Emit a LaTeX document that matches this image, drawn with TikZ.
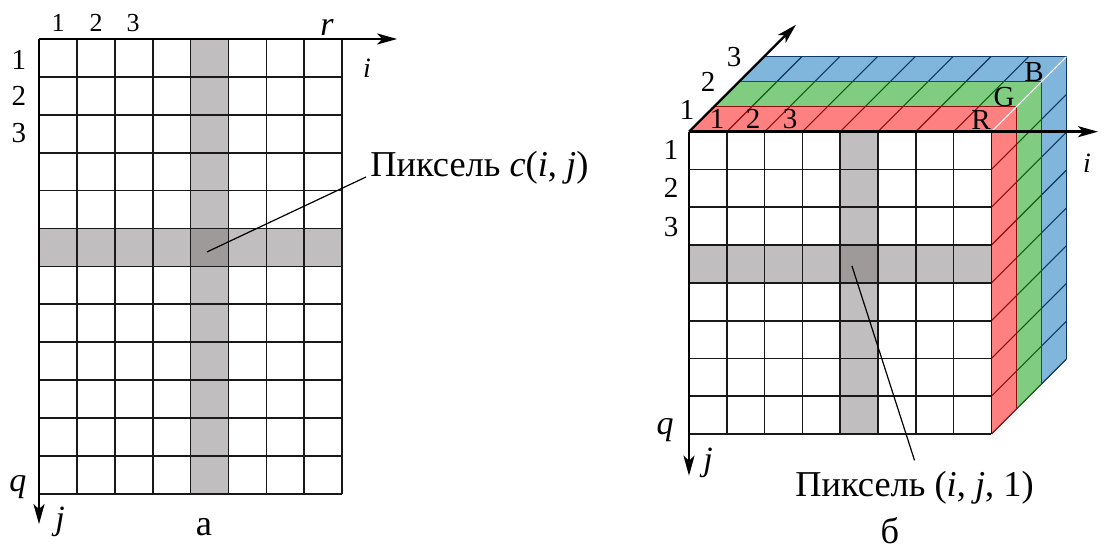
\documentclass[tikz,border=0pt]{standalone}
\usepackage{fontspec}
\setmainfont{Liberation Serif}
\usetikzlibrary{arrows.meta}

\definecolor{pixgray}{RGB}{192,190,191}
\definecolor{pixdark}{RGB}{158,154,154}
\definecolor{redfill}{RGB}{255,128,128}
\definecolor{greenfill}{RGB}{128,204,128}
\definecolor{bluefill}{RGB}{128,182,220}
\definecolor{rededge}{RGB}{140,15,15}
\definecolor{greenedge}{RGB}{15,95,15}
\definecolor{blueedge}{RGB}{15,55,100}

\begin{document}
\begin{tikzpicture}[
  x=0.5pt, y=-0.5pt,
  gridline/.style={draw=black!90, line width=0.85pt},
  hatch/.style={line width=0.55pt},
  axis/.style={-{Stealth[length=10pt, width=5.5pt, inset=2.5pt]}, line width=1.2pt},
  num/.style={font=\fontsize{14.5}{16}\selectfont, inner sep=0pt},
  numsmall/.style={font=\fontsize{13}{15}\selectfont, inner sep=0pt},
  var/.style={font=\fontsize{17}{19}\selectfont\itshape, inner sep=0pt},
  varsmall/.style={font=\fontsize{14}{16}\selectfont\itshape, inner sep=0pt},
  caption/.style={font=\fontsize{18.2}{20}\selectfont, inner sep=0pt},
  leader/.style={line width=0.6pt}
]
\useasboundingbox (0,0) rectangle (1104,549);

% a: single channel image
\begin{scope}[shift={(19.5pt,-19.5pt)}, x=18.95pt, y=-18.95pt]
  \fill[pixgray] (4,0) rectangle (5,12);
  \fill[pixgray] (0,5) rectangle (8,6);
  \fill[pixdark] (4,5) rectangle (5,6);
  \foreach \c in {1,...,8} \draw[gridline] (\c,0) -- (\c,12);
  \foreach \r in {1,...,12} \draw[gridline] (0,\r) -- (8,\r);
  \coordinate (pixA) at (4.43,5.62);
  \draw[axis] (0,0) -- (9.45,0);
  \draw[axis] (0,0) -- (0,12.8);
\end{scope}

\foreach \t/\x in {1/58, 2/96, 3/133} \node[numsmall] (topA\t) at (\x,23) {\t};
\foreach \t/\y in {1/60, 2/96, 3/133} \node[num] (sideA\t) at (19,\y) {\t};
\node[var] (rA) at (327,27) {r};
\node[varsmall] (iA) at (367,68) {i};
\node[var] (qA) at (18,487) {q};
\node[var] (jA) at (60,522) {j};
\node[caption] (capA) at (204,527) {а};
\node[caption, anchor=base west] (labA) at (370,177) {Пиксель \textit{c}(\textit{i}, \textit{j})};
\draw[leader] (pixA) -- ([xshift=-2pt]labA.base west);

% b: RGB image
\begin{scope}[shift={(344.5pt,-65.85pt)}, x=18.9pt, y=-18.9pt]
  \def\dep{0.661}
  \foreach \k/\fc/\ec in {3/bluefill/blueedge, 2/greenfill/greenedge, 1/redfill/rededge} {
    \pgfmathsetmacro\near{(\k-1)*\dep}
    \pgfmathsetmacro\far{\k*\dep}
    \fill[\fc] (\near,-\near) -- (8+\near,-\near) -- (8+\far,-\far) -- (\far,-\far) -- cycle;
    \fill[\fc] (8+\near,-\near) -- (8+\far,-\far) -- (8+\far,8-\far) -- (8+\near,8-\near) -- cycle;
    \foreach \c in {1,...,7} \draw[hatch, \ec] (\c+\near,-\near) -- (\c+\far,-\far);
    \foreach \r in {1,...,8} \draw[hatch, \ec] (8+\near,\r-\near) -- (8+\far,\r-\far);
    \draw[\ec, line width=0.7pt] (\far,-\far) -- (8+\far,-\far) -- (8+\far,8-\far);
  }
  \draw[white, line width=0.6pt] (8,0) -- (8+3*\dep,-3*\dep);
  \fill[white] (0,0) rectangle (8,8);
  \fill[pixgray] (4,0) rectangle (5,8);
  \fill[pixgray] (0,3) rectangle (8,4);
  \fill[pixdark] (4,3) rectangle (5,4);
  \foreach \c in {1,...,8} \draw[gridline] (\c,0) -- (\c,8);
  \foreach \r in {1,...,8} \draw[gridline] (0,\r) -- (8,\r);
  \coordinate (pixB) at (4.31,3.55);
  \draw[axis] (0,0) -- (10.82,0);
  \draw[axis] (0,0) -- (0,9.1);
  \draw[axis] (0,0) -- (2.83,-2.83);
\end{scope}

\foreach \t/\x/\y in {1/687/110, 2/708/82, 3/734/57} \node[num] (depB\t) at (\x,\y) {\t};
\foreach \t/\x in {1/717, 2/753, 3/790} \node[num] (colB\t) at (\x,119) {\t};
\foreach \t/\y in {1/150, 2/188, 3/227} \node[num] (rowB\t) at (671,\y) {\t};
\node[num] (chR) at (981,120) {R};
\node[num] (chG) at (1004,97) {G};
\node[num] (chB) at (1034,72) {B};
\node[varsmall] (iB) at (1087,163) {i};
\node[var] (qB) at (665,430) {q};
\node[var] (jB) at (708,463) {j};
\node[caption, anchor=base west] (labB) at (795,497) {Пиксель (\textit{i}, \textit{j}, 1)};
\node[caption] (capB) at (890,531) {б};
\draw[leader] (pixB) -- ([yshift=5.5pt]labB.north);
\end{tikzpicture}
\end{document}
